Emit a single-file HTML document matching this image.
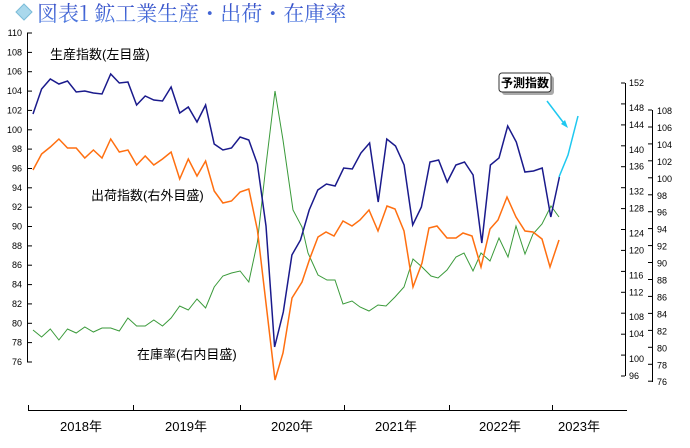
<!DOCTYPE html>
<html><head><meta charset="utf-8"><style>
body{margin:0;background:#fff;width:690px;height:443px;overflow:hidden}
text{font-family:"Liberation Sans","Noto Sans CJK JP",sans-serif}
</style></head><body>
<svg width="690" height="443" viewBox="0 0 690 443" xmlns="http://www.w3.org/2000/svg">
<defs><linearGradient id="tg" x1="0" y1="0" x2="0" y2="1"><stop offset="0" stop-color="#2a3fc0"/><stop offset="1" stop-color="#5a8ae8"/></linearGradient></defs>
<polygon points="24,4 32,12 24,20 16,12" fill="#a9d8ec" stroke="#7bbcd8"/>
<text x="37" y="21" font-size="21" fill="url(#tg)" style="font-family:'Noto Serif CJK SC',serif">図表1 鉱工業生産・出荷・在庫率</text>
<g stroke="#000" stroke-width="1" fill="none">
<path d="M27.5 33V362"/>
<path d="M625.5 83V376"/>
<path d="M652.5 110V382"/>
<path d="M28 410.5H627"/>
<path d="M28.5 405V410M133.5 405V410M240.5 405V410M344.5 405V410M449.5 405V410M552.5 405V410"/>
</g>
<g id="lt" stroke="#000"></g>
<g font-size="9" fill="#000" id="lbl"></g>
<text x="50" y="59" font-size="13">生産指数(左目盛)</text>
<text x="91" y="200" font-size="13">出荷指数(右外目盛)</text>
<text x="137" y="359" font-size="13">在庫率(右内目盛)</text>
<g font-size="13" text-anchor="middle">
<text x="81" y="431">2018年</text><text x="186" y="431">2019年</text><text x="292" y="431">2020年</text><text x="396" y="431">2021年</text><text x="500" y="431">2022年</text><text x="579" y="431">2023年</text>
</g>
<rect x="502" y="76" width="52" height="19" rx="3" fill="#aaa"/>
<rect x="499" y="73" width="52" height="19" rx="3" fill="#fff" stroke="#333"/>
<text x="525" y="87" font-size="12" text-anchor="middle" font-weight="bold">予測指数</text>
<path d="M547 101L566 126" stroke="#1ec8f0" stroke-width="1.5"/>
<polygon points="568,128 561,124 565,120" fill="#1ec8f0"/>
<polyline id="g" fill="none" stroke="#3a9a3a" stroke-width="1"/>
<polyline id="o" fill="none" stroke="#ff6f10" stroke-width="1.5"/>
<polyline id="b" fill="none" stroke="#1a1a8c" stroke-width="1.5"/>
<polyline points="559,177 568,155 578,116" fill="none" stroke="#1ec8f0" stroke-width="1.5"/>
</svg>
<script>
const X=i=>33+8.63*i;
const by=[114,89,79,84,81,92,91,93,94,74,83,82,105,96,100,101,87,113,107,122,105,144,150,148,137,140,164,226,347,312,255,240,210,190,184,186,168,169,153,143,202,139,146,165,225,207,162,160,182,165,162,175,243,165,158,126,142,172,171,168,217,177];
document.getElementById('b').setAttribute('points',by.map((y,i)=>X(i).toFixed(1)+','+y).join(' '));
const oy=[170,154,147,139,148,148,158,150,158,139,152,150,165,156,165,159,152,179,159,176,161,191,203,201,192,189,230];
let op=oy.map((y,i)=>X(i).toFixed(1)+','+y).join(' ')+' 275,380 283,353 292,298 302,282 310,258 318,237 326,232 334,236 343,221 352,226 360,220 369,210 378,231 387,206 395,209 404,231 413,287 422,263 429,228 437,226 447,238 456,238 463,233 472,236 481,267 490,229 498,220 507,197 516,217 525,231 533,232 542,239 550,267 559,240';
document.getElementById('o').setAttribute('points',op);
const gy=[330,337,329,340,329,333,327,332,328,328,331,318,326,326,320,326,318,306,310,299,308,287,276,273,271,282,242];
let gp=gy.map((y,i)=>X(i).toFixed(1)+','+y).join(' ')+' 266,165 275,91 283,140 293,210 302,227 308,253 318,275 327,280 335,280 343,304 352,301 360,307 369,311 378,305 386,306 395,297 404,287 413,259 422,267 431,276 438,278 447,270 456,257 464,253 473,271 481,253 490,261 499,238 508,257 516,226 525,254 533,234 542,224 551,206 559,217';
document.getElementById('g').setAttribute('points',gp);
let lt='',lb='';
for(let v=110;v>=76;v-=2){const y=33+(110-v)/2*19.35;lt+=`<path d="M27 ${y.toFixed(1)}H32"/>`;lb+=`<text x="22" y="${(y+3).toFixed(1)}" text-anchor="end">${v}</text>`;}
for(let k=0;k<15;k++){const v=152-4*k,y=83+k*20.93;lt+=`<path d="M621 ${y.toFixed(1)}H625"/>`;lb+=`<text x="629" y="${(y+3+(k%2?4:0)).toFixed(1)}">${v}</text>`;}
for(let k=0;k<17;k++){const v=108-2*k,y=110+k*16.95;lt+=`<path d="M648 ${y.toFixed(1)}H652"/>`;lb+=`<text x="657" y="${(y+4).toFixed(1)}">${v}</text>`;}
document.getElementById('lt').innerHTML=lt;document.getElementById('lbl').innerHTML=lb;
</script>
</body></html>
